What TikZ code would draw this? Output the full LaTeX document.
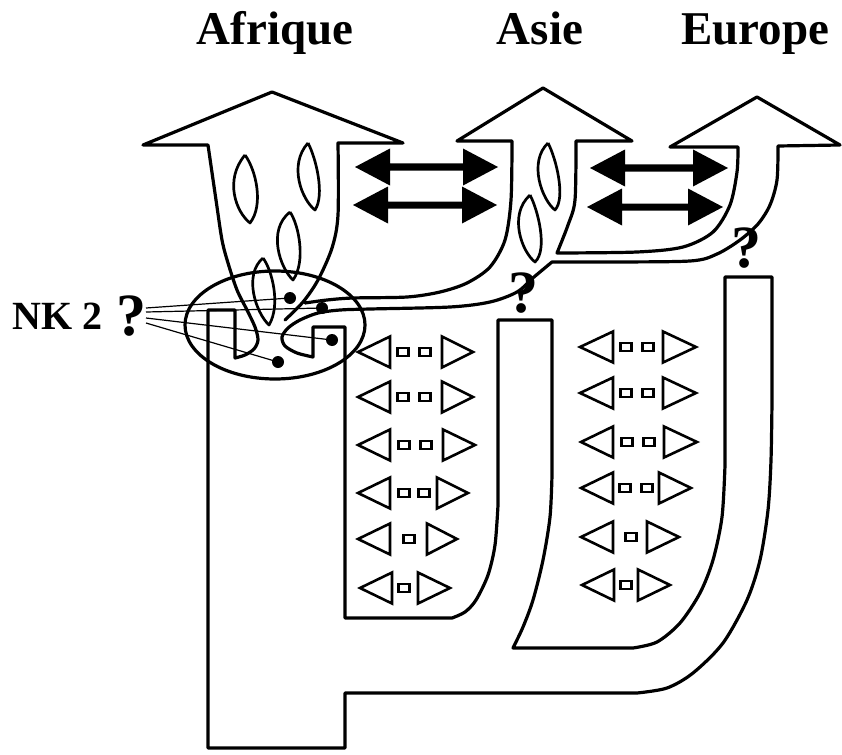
\documentclass[tikz,border=0pt]{standalone}
\usepackage{fontspec}
\setmainfont{Liberation Serif}
\newcommand\dblarr[3]{\fill (#1,#3) -- ({#1+35},{#3-18.5}) -- ({#1+35},{#3-3.5}) -- ({#2-35},{#3-3.5}) -- ({#2-35},{#3-18.5}) -- (#2,#3) -- ({#2-35},{#3+18.5}) -- ({#2-35},{#3+3.5}) -- ({#1+35},{#3+3.5}) -- ({#1+35},{#3+18.5}) -- cycle;}
\newcommand\symtri[3]{\draw[sym] (#1,#3) -- (#2,{#3-15.5}) -- (#2,{#3+15.5}) -- cycle;}
\newcommand\symsq[2]{\draw[sym] ({#1-5.5},{#2-4}) rectangle ({#1+5.5},{#2+4});}
\begin{document}
\begin{tikzpicture}[x=1pt,y=-1pt,
  outline/.style={line width=3.2pt,line join=round,line cap=round},
  thinline/.style={line width=1.2pt},
  leaf/.style={line width=2.7pt,line join=round},
  sym/.style={line width=2.6pt,line join=miter},
  dot/.style={circle,fill=black,inner sep=0pt,minimum size=12pt},
  title/.style={font=\fontsize{47}{50}\selectfont\bfseries,anchor=base,inner sep=0pt},
  qm/.style={font=\fontsize{60}{64}\selectfont\bfseries,anchor=base,inner sep=0pt}]
\useasboundingbox (0,0) rectangle (842,754);

% titles
\node[title] (afr) at (275,45) {Afrique};
\node[title] (asi) at (540,45) {Asie};
\node[title] (eur) at (755,45) {Europe};

% main outline
\draw[outline]
 (285,320) -- plot[smooth,tension=0.5] coordinates {(285,320) (303,302) (318,280) (332,248) (338,215) (338,143)}
 -- (403,143) -- (272,92) -- (143,145) -- (208,145)
 -- plot[smooth,tension=0.5] coordinates {(208,145) (216,200) (222,240) (228,263) (237,290) (247,310) (255,327) (258,340) (254,349) (245,355) (235,358)}
 -- (235,310) -- (208,310) -- (208,748) -- (345,748) -- (345,693) -- (637,693)
 -- plot[smooth,tension=0.5] coordinates {(637,693) (667,688) (693,673) (723,643) (747,600) (760,560) (768,510) (771,460) (772,400)}
 -- (772,277) -- (725,277) -- (725,465)
 -- plot[smooth,tension=0.5] coordinates {(725,465) (722,517) (713,560) (700,593) (680,623) (657,642) (633,648)}
 -- (513,648)
 -- plot[smooth,tension=0.5] coordinates {(513,648) (523,627) (533,600) (543,560) (550,517) (552,475)}
 -- (552,320) -- (498,320) -- (498,505)
 -- plot[smooth,tension=0.5] coordinates {(498,505) (495,545) (488,575) (476,600) (465,612) (452,618)}
 -- (345,618) -- (345,327) -- (313,327) -- (313,357)
 -- plot[smooth,tension=0.5] coordinates {(313,357) (297,353) (285,346) (282,337) (288,328) (300,320) (318,313) (340,310) (370,309) (450,307) (490,302) (517,292) (534,277) (552,262)}
 -- plot[smooth,tension=0.5] coordinates {(552,262) (600,262) (690,261) (717,254) (740,240) (758,224) (770,205) (777,180) (778,146)}
 -- (840,145) -- (757,97) -- (670,147) -- (738,147)
 -- plot[smooth,tension=0.5] coordinates {(738,147) (737,172) (730,205) (713,232) (683,247) (637,252) (557,253)}
 -- plot[smooth,tension=0.5] coordinates {(557,253) (568,225) (575,200) (576,141)}
 -- (632,141) -- (543,88) -- (457,141) -- (512,141)
 -- plot[smooth,tension=0.5] coordinates {(512,141) (511,200) (505,240) (490,267) (467,283) (440,292) (407,297) (353,298) (327,300) (305,303)};

% leaves
\draw[leaf] (245,155) .. controls (256,170) and (264,205) .. (250,223) .. controls (236,212) and (224,180) .. (245,155);
\draw[leaf] (308,143) .. controls (316,158) and (325,195) .. (315,210) .. controls (302,200) and (288,165) .. (308,143);
\draw[leaf] (290,212) .. controls (299,225) and (306,262) .. (293,280) .. controls (280,268) and (267,230) .. (290,212);
\draw[leaf] (263,258) .. controls (272,270) and (281,305) .. (269,325) .. controls (256,313) and (243,275) .. (263,258);
\draw[leaf] (548,143) .. controls (556,158) and (566,198) .. (555,210) .. controls (542,200) and (528,162) .. (548,143);
\draw[leaf] (530,195) .. controls (538,210) and (548,250) .. (535,262) .. controls (522,252) and (508,215) .. (530,195);

% double arrows
\dblarr{355}{498}{167}
\dblarr{353}{497}{205}
\dblarr{590}{728}{168}
\dblarr{587}{723}{207}

% ellipse, dots, NK 2
\draw[outline] (275,325) ellipse [x radius=90pt, y radius=54pt];
\node[dot] (d1) at (290,298) {};
\node[dot] (d2) at (322,308) {};
\node[dot] (d3) at (332,340) {};
\node[dot] (d4) at (278,362) {};
\node[font=\fontsize{40}{42}\selectfont\bfseries,anchor=base west,inner sep=0pt] (nk) at (12,329) {NK 2};
\node[qm] (q0) at (131,335) {?};
\coordinate (s1) at (146,308);
\coordinate (s2) at (146,312);
\coordinate (s3) at (146,318);
\coordinate (s4) at (146,323);
\draw[thinline] (s1) -- (d1.center);
\draw[thinline] (s2) -- (d2.center);
\draw[thinline] (s3) -- (d3.center);
\draw[thinline] (s4) -- (d4.center);
\node[qm] (q1) at (523,312) {?};
\node[qm] (q2) at (746,267) {?};

% symbols column 1
\symtri{358}{390}{352} \symsq{403}{352} \symsq{425}{352} \symtri{473}{442}{352}
\symtri{358}{390}{397} \symsq{403}{397} \symsq{425}{397} \symtri{473}{442}{397}
\symtri{358}{390}{445} \symsq{404}{445} \symsq{426}{445} \symtri{475}{443}{445}
\symtri{358}{390}{493} \symsq{404}{493} \symsq{424}{493} \symtri{468}{437}{493}
\symtri{358}{390}{539} \symsq{409}{539} \symtri{457}{427}{539}
\symtri{360}{392}{588} \symsq{404}{588} \symtri{450}{418}{588}
% symbols column 2
\symtri{580}{613}{347} \symsq{626}{347} \symsq{648}{347} \symtri{696}{663}{347}
\symtri{580}{613}{393} \symsq{626}{393} \symsq{648}{393} \symtri{696}{663}{393}
\symtri{581}{613}{442} \symsq{627}{442} \symsq{649}{442} \symtri{697}{664}{442}
\symtri{581}{613}{488} \symsq{625}{488} \symsq{647}{488} \symtri{691}{659}{488}
\symtri{581}{613}{537} \symsq{631}{537} \symtri{679}{647}{537}
\symtri{582}{614}{585} \symsq{626}{585} \symtri{670}{638}{585}
\end{tikzpicture}
\end{document}
